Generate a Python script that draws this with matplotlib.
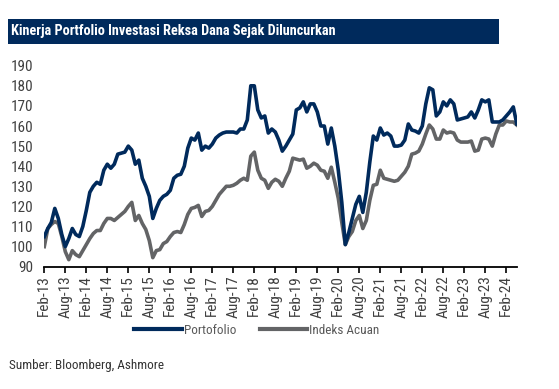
import matplotlib
matplotlib.use("Agg")
import matplotlib.pyplot as plt
from matplotlib.patches import Rectangle
from matplotlib.lines import Line2D
from matplotlib import font_manager as fm

title = "Kinerja Portfolio Investasi Reksa Dana Sejak Diluncurkan"
source = "Sumber: Bloomberg, Ashmore"
series_names = ["Portofolio", "Indeks Acuan"]

# monthly values, Feb-13 ... May-24
portofolio = [
    105, 109, 112, 119, 114, 106, 100, 104, 109, 106, 105, 110,
    118, 127, 130, 132, 131, 138, 141, 139, 141, 146, 146.5, 147,
    150, 148, 141, 143, 134, 130, 125, 114, 119, 123, 125, 126,
    128, 134, 135.5, 136, 140, 149, 154, 153, 156.5, 148, 150, 149,
    151, 154, 155.5, 156.5, 157, 157, 157, 156.5, 158.5, 158.5, 163, 180,
    180, 168, 164, 165, 156.5, 158.5, 157, 153, 147.5, 150, 153, 156,
    168, 169, 172, 167, 171, 171, 167, 160, 160, 151, 159, 150,
    138, 122, 101, 107, 114, 121, 125, 117, 127, 142, 155, 153,
    159, 155.5, 156.5, 155, 150, 150, 150.5, 153, 161, 158, 157.5, 156.5,
    160, 171, 179, 178, 165, 167, 172, 170, 173, 171, 163, 163.5,
    164, 164.5, 167, 164, 168, 173, 172, 173, 162, 162, 162, 163,
    165, 167, 169.5, 161,
]
indeks_acuan = [
    100, 109, 111, 112.5, 111.5, 105, 97.5, 93.5, 98, 96, 95, 98,
    101, 104, 106.5, 108, 108, 111.5, 114, 114, 113, 114.5, 116, 117.5,
    120, 122, 113, 115.5, 111.5, 108.5, 103, 94.5, 98, 98.5, 101.5, 102.5,
    105, 107, 107.5, 107, 111, 116, 119, 119.5, 120.5, 115, 117.5, 118,
    120, 123, 126, 128, 130, 130, 130.5, 131.5, 133, 134, 133, 145,
    147, 138, 134, 133, 129, 132, 133.5, 132.5, 130, 134, 137.5, 144,
    143.5, 143, 143.5, 139, 140, 141.5, 140.5, 138, 137.5, 134, 139.5, 132,
    124, 112, 101, 105, 107.5, 113, 115.5, 109, 113, 123, 130.5, 131,
    138, 134, 133.5, 133, 132.5, 133, 135, 137, 140, 146, 146.5, 147.5,
    151, 156, 160.5, 158.5, 153.5, 153.5, 158, 156.5, 157, 156.5, 153, 152,
    152, 152, 152.5, 147.5, 148, 153.5, 154, 153.5, 150, 156, 160.5, 160.5,
    162.5, 162, 162, 160.5,
]
x_labels = ["Feb-13", "Aug-13", "Feb-14", "Aug-14", "Feb-15", "Aug-15", "Feb-16",
            "Aug-16", "Feb-17", "Aug-17", "Feb-18", "Aug-18", "Feb-19", "Aug-19",
            "Feb-20", "Aug-20", "Feb-21", "Aug-21", "Feb-22", "Aug-22", "Feb-23",
            "Aug-23", "Feb-24"]
y_ticks = [90, 100, 110, 120, 130, 140, 150, 160, 170, 180, 190]


def pick_font(bold):
    fonts = fm.fontManager.ttflist
    def ok_w(f):
        w = f.weight if isinstance(f.weight, int) else (700 if 'bold' in str(f.weight).lower() else 400)
        return (w >= 600) == bold
    tests = [
        lambda f: 'narrow' in f.name.lower() and 'liberation' in f.name.lower(),
        lambda f: 'condensed' in f.name.lower() and 'roboto' in f.name.lower(),
        lambda f: 'condensed' in (f.name + ' ' + f.fname).lower() and 'dejavu' in f.fname.lower()
                  and 'mono' not in f.fname.lower() and 'serif' not in f.fname.lower(),
        lambda f: 'narrow' in f.name.lower() or 'condensed' in f.name.lower(),
    ]
    for t in tests:
        for f in fonts:
            if t(f) and ok_w(f) and 'italic' not in f.style.lower() and 'oblique' not in f.style.lower() \
                    and 'oblique' not in f.fname.lower() and 'italic' not in f.fname.lower():
                return fm.FontProperties(fname=f.fname), True
    return fm.FontProperties(family='Liberation Sans', weight='bold' if bold else 'normal'), False


FP, narrow = pick_font(False)
FPB, narrow_b = pick_font(True)

NAVY = "#002A5C"
GRAY = "#636466"
TXT = "#404040"

W, H = 559, 389
fig = plt.figure(figsize=(W / 100, H / 100), dpi=100)

# title banner
fig.add_artist(Rectangle((8 / W, 1 - 44 / H), (499 - 8) / W, 25 / H,
                         transform=fig.transFigure, facecolor=NAVY, edgecolor='none'))
tp = FPB.copy()
tp.set_size(10.3 if narrow_b else 9)
fig.text(11 / W, 1 - 31.5 / H, title, color='white', fontproperties=tp,
         va='center', ha='left')

ax = fig.add_axes([44.3 / W, 1 - 266.7 / H, (516.8 - 44.3) / W, (266.7 - 65.7) / H])
xs = list(range(len(portofolio)))
ax.plot(xs, indeks_acuan, color=GRAY, lw=2.6, solid_joinstyle='round', zorder=2)
ax.plot(xs, portofolio, color=NAVY, lw=2.6, solid_joinstyle='round', zorder=3)

lab = FP.copy()
lab.set_size(9.5 if narrow else 8.5)
tick = FP.copy()
tick.set_size(11 if narrow else 9)

ax.set_xlim(0, 135)
ax.set_ylim(90, 190)
ax.set_yticks(y_ticks)
ax.set_yticklabels([str(v) for v in y_ticks], fontproperties=tick, color=TXT)
ax.set_xticks([6 * i for i in range(len(x_labels))])
ax.set_xticklabels(x_labels, rotation=90, fontproperties=tick, color=TXT)
for s in ['top', 'right', 'left']:
    ax.spines[s].set_visible(False)
ax.spines['bottom'].set_color('black')
ax.spines['bottom'].set_linewidth(1.3)
ax.tick_params(axis='x', direction='out', length=4, width=1.2, color='black', pad=2)
ax.tick_params(axis='y', length=0, pad=8)

handles = [Line2D([], [], color=NAVY, lw=3), Line2D([], [], color=GRAY, lw=3)]
fig.legend(handles, series_names, loc='center', bbox_to_anchor=(257 / W, 1 - 330 / H),
           ncol=2, frameon=False, prop=lab, labelcolor="#595959",
           handlelength=3.6, handletextpad=0.15, columnspacing=1.8)

fig.text(9 / W, 1 - 366 / H, source, fontproperties=lab, color="#333333", va='center', ha='left')

fig.savefig("out.png", dpi=100)
